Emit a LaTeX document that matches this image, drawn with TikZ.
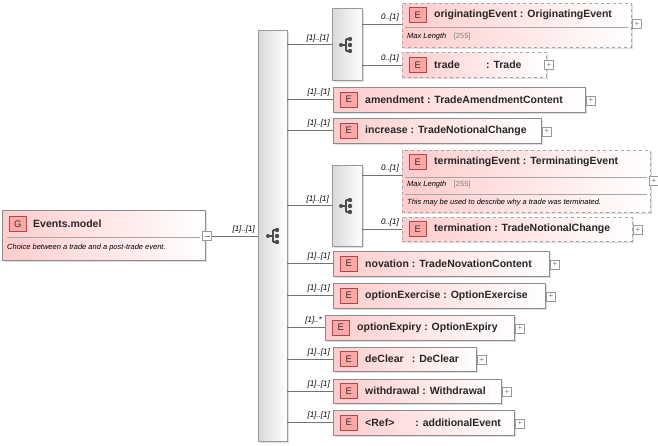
\documentclass[tikz,border=0pt]{standalone}
\usepackage{fontspec}
\setmainfont{Liberation Sans}
\usetikzlibrary{shadows}
\begin{document}
\begin{tikzpicture}[x=1pt,y=-1pt,
  ebox/.style={draw=black!45,left color=red!20,right color=white,shading angle=90,drop shadow={shadow xshift=2pt,shadow yshift=-2pt,fill=black!25},inner sep=0pt},
  dbox/.style={ebox,dashed,draw=black!35},
  eicon/.style={draw=red!50!black!70,fill=red!35,minimum width=17pt,minimum height=15pt,inner sep=0pt,font=\fontsize{9.5}{9.5}\selectfont,text=black!80},
  etext/.style={anchor=west,font=\bfseries\fontsize{10.5}{12}\selectfont,text=black!85,inner sep=0pt},
  card/.style={anchor=south east,font=\itshape\fontsize{8}{8}\selectfont,inner sep=1pt},
  small/.style={anchor=west,font=\itshape\fontsize{7.5}{8}\selectfont,inner sep=0pt},
  plus/.style={draw=black!40,fill=white,minimum size=9pt,inner sep=0pt,font=\fontsize{8}{8}\selectfont,text=black!50},
  gbox/.style={draw=black!40,left color=black!15,right color=white,shading angle=90,drop shadow={shadow xshift=2pt,shadow yshift=-2pt,fill=black!25},inner sep=0pt},
  conn/.style={draw=black!55,line width=0.6pt}]
\useasboundingbox (0,0) rectangle (658,445);
\newcommand{\chicon}[2]{%
  \fill[black!70] (#1-5,#2) circle (2);
  \draw[black!70,line width=1.1pt] (#1-5,#2) -- (#1,#2) (#1,#2-6) -- (#1,#2+6) (#1,#2-6) -- (#1+4,#2-6) (#1,#2+6) -- (#1+4,#2+6);
  \fill[black!70] (#1+4,#2-6) circle (2.2) (#1+4,#2) circle (2.2) (#1+4,#2+6) circle (2.2);}
% Events.model
\node[ebox,minimum width=203pt,minimum height=50pt,anchor=north west] (g) at (2,210) {};
\draw[black!35] (7,237) -- (200,237);
\node[eicon,anchor=west] (gi) at (9,224) {G};
\node[etext] (gt) at (33,224) {Events.model};
\node[small] (gd) at (7,248) {Choice between a trade and a post-trade event.};
\node[plus] (gm) at (207,236) {};
\draw[black!50] (204.5,236) -- (209.5,236);
% main choice
\node[gbox,minimum width=29pt,minimum height=411pt,anchor=north west] (ch) at (258,30) {};
\chicon{273}{236}
\draw[conn] (gm.east) -- (ch.west|-gm.east);
\node[card] at (256,234) {[1]..[1]};
% sequence 1
\node[gbox,minimum width=30pt,minimum height=72pt,anchor=north west] (s1) at (332,8) {};
\chicon{346}{45}
\draw[conn] (ch.east|-s1.west) -- (s1.west);
\node[card] at (330,43) {[1]..[1]};
% originatingEvent
\node[dbox,minimum width=229pt,minimum height=44pt,anchor=north west] (oe) at (402,3) {};
\draw[black!35] (405,27) -- (628,27);
\node[eicon,anchor=west] at (409,15) {E};
\node[etext] at (434,15) {originatingEvent : OriginatingEvent};
\node[small] at (407,37) {Max Length\quad\textcolor{black!50}{\upshape [255]}};
\node[plus] (p1) at (637,24) {+};
\draw[conn] (s1.east|-p1) -- (oe.west|-p1);
\node[card] at (400,22) {0..[1]};
% trade
\node[dbox,minimum width=144pt,minimum height=25pt,anchor=north west] (tr) at (402,52) {};
\node[eicon,anchor=west] at (409,65) {E};
\node[etext] at (434,65) {trade\hspace{2.5em}: Trade};
\node[plus] (p2) at (549,65) {+};
\draw[conn] (s1.east|-p2) -- (tr.west|-p2);
\node[card] at (400,63) {0..[1]};
\newcommand{\elem}[6]{%
  \node[ebox,minimum width=#3-#1,minimum height=#4-#2,anchor=north west] (#6) at (#1,#2) {};
  \node[eicon,anchor=west] at (#1+7,#2/2+#4/2) {E};
  \node[etext] at (#1+32,#2/2+#4/2) {#5};
  \node[plus] (#6p) at (#3+6,#2/2+#4/2+1) {+};
  \draw[conn] (ch.east|-#6.west) -- (#6.west);}
\elem{333}{87}{585}{112}{amendment : TradeAmendmentContent}{am}
\node[card] at (331,97) {[1]..[1]};
\elem{333}{118}{541}{143}{increase : TradeNotionalChange}{inc}
\node[card] at (331,128) {[1]..[1]};
% sequence 2
\node[gbox,minimum width=30pt,minimum height=81pt,anchor=north west] (s2) at (332,165) {};
\chicon{346}{206}
\draw[conn] (ch.east|-s2.west) -- (s2.west);
\node[card] at (330,204) {[1]..[1]};
% terminatingEvent
\node[dbox,minimum width=248pt,minimum height=62pt,anchor=north west] (te) at (402,150) {};
\draw[black!35] (405,177) -- (647,177) (405,194) -- (647,194);
\node[eicon,anchor=west] at (409,162) {E};
\node[etext] at (434,162) {terminatingEvent : TerminatingEvent};
\node[small] at (407,185) {Max Length\quad\textcolor{black!50}{\upshape [255]}};
\node[small] at (407,203) {This may be used to describe why a trade was terminated.};
\node[plus] (p3) at (654,181) {+};
\draw[conn] (s2.east|-0,175) -- (te.west|-0,175);
\node[card] at (400,173) {0..[1]};
% termination
\node[dbox,minimum width=230pt,minimum height=24pt,anchor=north west] (tm) at (402,217) {};
\node[eicon,anchor=west] at (409,229) {E};
\node[etext] at (434,229) {termination : TradeNotionalChange};
\node[plus] (p4) at (638,230) {+};
\draw[conn] (s2.east|-tm.west) -- (tm.west);
\node[card] at (400,227) {0..[1]};
% rest
\elem{333}{251}{549}{276}{novation : TradeNovationContent}{nov}
\node[card] at (331,261) {[1]..[1]};
\elem{333}{283}{545}{308}{optionExercise : OptionExercise}{oex}
\node[card] at (331,293) {[1]..[1]};
\elem{325}{315}{514}{340}{optionExpiry : OptionExpiry}{oexp}
\node[card] at (323,325) {[1]..*};
\elem{333}{347}{476}{371}{deClear\enspace\ : DeClear}{dc}
\node[card] at (331,357) {[1]..[1]};
\elem{333}{379}{501}{403}{withdrawal : Withdrawal}{wd}
\node[card] at (331,389) {[1]..[1]};
\elem{333}{410}{514}{435}{<Ref>\hspace{2em}: additionalEvent}{rf}
\node[card] at (331,420) {[1]..[1]};
\end{tikzpicture}
\end{document}
